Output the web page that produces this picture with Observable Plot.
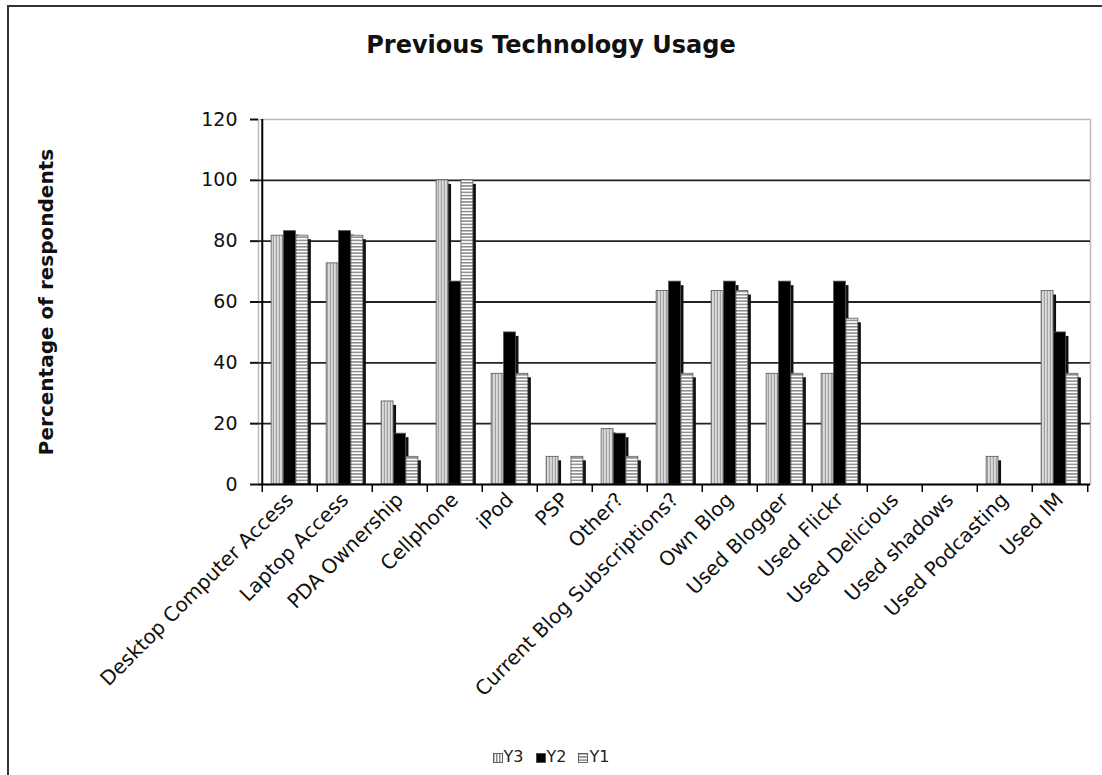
<!DOCTYPE html>
<html>
<head>
<meta charset="utf-8">
<script src="https://cdn.jsdelivr.net/npm/d3@7"></script>
<script src="https://cdn.jsdelivr.net/npm/@observablehq/plot@0.6"></script>
<style>
  html, body { margin: 0; padding: 0; background: #fff; width: 1102px; height: 775px; overflow: hidden; font-family: "DejaVu Sans", Verdana, sans-serif; }
  #frame { position: absolute; left: 7px; top: 5px; right: -5px; bottom: -5px; border-left: 2px solid #333; border-top: 2px solid #333; }
  #title { position: absolute; left: 0; width: 1102px; top: 31px; text-align: center; font-weight: bold; font-size: 24px; color: #111; }
  #ylabel { position: absolute; left: 46px; top: 302px; transform: translate(-50%, -50%) rotate(-90deg); white-space: nowrap; font-weight: bold; font-size: 20px; color: #111; }
  #chart { position: absolute; left: 0; top: 70px; }
  #legend { position: absolute; left: 0; width: 1102px; top: 747px; text-align: center; font-size: 16px; color: #222; }
  #legend span.item { margin: 0 6px; }
  #legend svg { vertical-align: -1px; margin-right: 1px; }
</style>
</head>
<body>
<div id="frame"></div>
<div id="title">Previous Technology Usage</div>
<div id="ylabel">Percentage of respondents</div>
<div id="chart"></div>
<div id="legend"></div>
<script>
const categories = [
  "Desktop Computer Access", "Laptop Access", "PDA Ownership", "Cellphone", "iPod", "PSP", "Other?",
  "Current Blog Subscriptions?", "Own Blog", "Used Blogger", "Used Flickr", "Used Delicious",
  "Used shadows", "Used Podcasting", "Used IM"
];
const seriesNames = ["Y3", "Y2", "Y1"];
const y3 = [81.8, 72.7, 27.3, 100, 36.4, 9.1, 18.2, 63.6, 63.6, 36.4, 36.4, 0, 0, 9.1, 63.6];
const y2 = [83.3, 83.3, 16.7, 66.7, 50, 0, 16.7, 66.7, 66.7, 66.7, 66.7, 0, 0, 0, 50];
const y1 = [81.8, 81.8, 9.1, 100, 36.4, 9.1, 9.1, 36.4, 63.6, 36.4, 54.5, 0, 0, 0, 36.4];
const yTicks = [0, 20, 40, 60, 80, 100, 120];
const gridTicks = [20, 40, 60, 80, 100];

const seriesValues = {Y3: y3, Y2: y2, Y1: y1};
const fills = {Y3: "url(#pat-y3)", Y2: "#000", Y1: "url(#pat-y1)"};

const W = 1102, H = 680;
const mL = 258, mR = 12, mT = 49, mB = 266;
const bw = (W - mL - mR) / categories.length;
const barW = 12.4;
const inset = (bw - barW) / 2;

const marks = [
  Plot.frame({stroke: "#bbb", strokeWidth: 1.5}),
  Plot.ruleY(gridTicks, {stroke: "#222", strokeWidth: 1.8})
];
seriesNames.forEach((s, k) => {
  const rows = categories.map((c, i) => ({cat: c, value: seriesValues[s][i]})).filter(d => d.value > 0);
  const off = (k - 1) * barW;
  marks.push(Plot.barY(rows, {x: "cat", y: "value", fill: "#111", insetLeft: inset, insetRight: inset, insetTop: 4, dx: off + 3}));
  marks.push(Plot.barY(rows, {x: "cat", y: "value", fill: fills[s], stroke: "#555", strokeWidth: 0.8, insetLeft: inset, insetRight: inset, dx: off}));
});
marks.push(
  Plot.ruleY([0], {stroke: "#000", strokeWidth: 2}),
  Plot.ruleX([categories[0]], {dx: -bw / 2, stroke: "#000", strokeWidth: 2}),
  Plot.ruleX(categories, {y1: 0, y2: 0, insetBottom: -8, dx: -bw / 2, stroke: "#000", strokeWidth: 1.5}),
  Plot.ruleX([categories[categories.length - 1]], {y1: 0, y2: 0, insetBottom: -8, dx: bw / 2, stroke: "#000", strokeWidth: 1.5}),
  Plot.axisY({ticks: yTicks, tickSize: 8, tickPadding: 13, fontSize: 19, color: "#111", strokeWidth: 2, label: null}),
  Plot.axisX({tickSize: 0, tickRotate: -45, tickPadding: 12, fontSize: 20, color: "#111", label: null})
);

const chart = Plot.plot({
  width: W, height: H,
  marginLeft: mL, marginRight: mR, marginTop: mT, marginBottom: mB,
  style: {fontFamily: "DejaVu Sans, Verdana, sans-serif", background: "transparent", overflow: "visible"},
  x: {domain: categories, padding: 0},
  y: {domain: [0, 120]},
  marks
});

d3.select(chart).insert("defs", ":first-child").html(`
  <pattern id="pat-y3" patternUnits="userSpaceOnUse" width="3" height="4">
    <rect width="3" height="4" fill="#fff"/>
    <rect width="1.5" height="4" fill="#8a8a8a"/>
  </pattern>
  <pattern id="pat-y1" patternUnits="userSpaceOnUse" width="4" height="3.2">
    <rect width="4" height="3.2" fill="#fff"/>
    <rect width="4" height="1.5" fill="#8a8a8a"/>
  </pattern>`);
document.getElementById("chart").appendChild(chart);

const legend = d3.select("#legend");
seriesNames.forEach(s => {
  const item = legend.append("span").attr("class", "item");
  const sw = item.append("svg").attr("width", 10).attr("height", 10);
  sw.append("rect").attr("x", 0.5).attr("y", 0.5).attr("width", 9).attr("height", 9)
    .attr("fill", fills[s]).attr("stroke", "#444").attr("stroke-width", 0.8);
  item.append("span").text(s);
});
</script>
</body>
</html>
